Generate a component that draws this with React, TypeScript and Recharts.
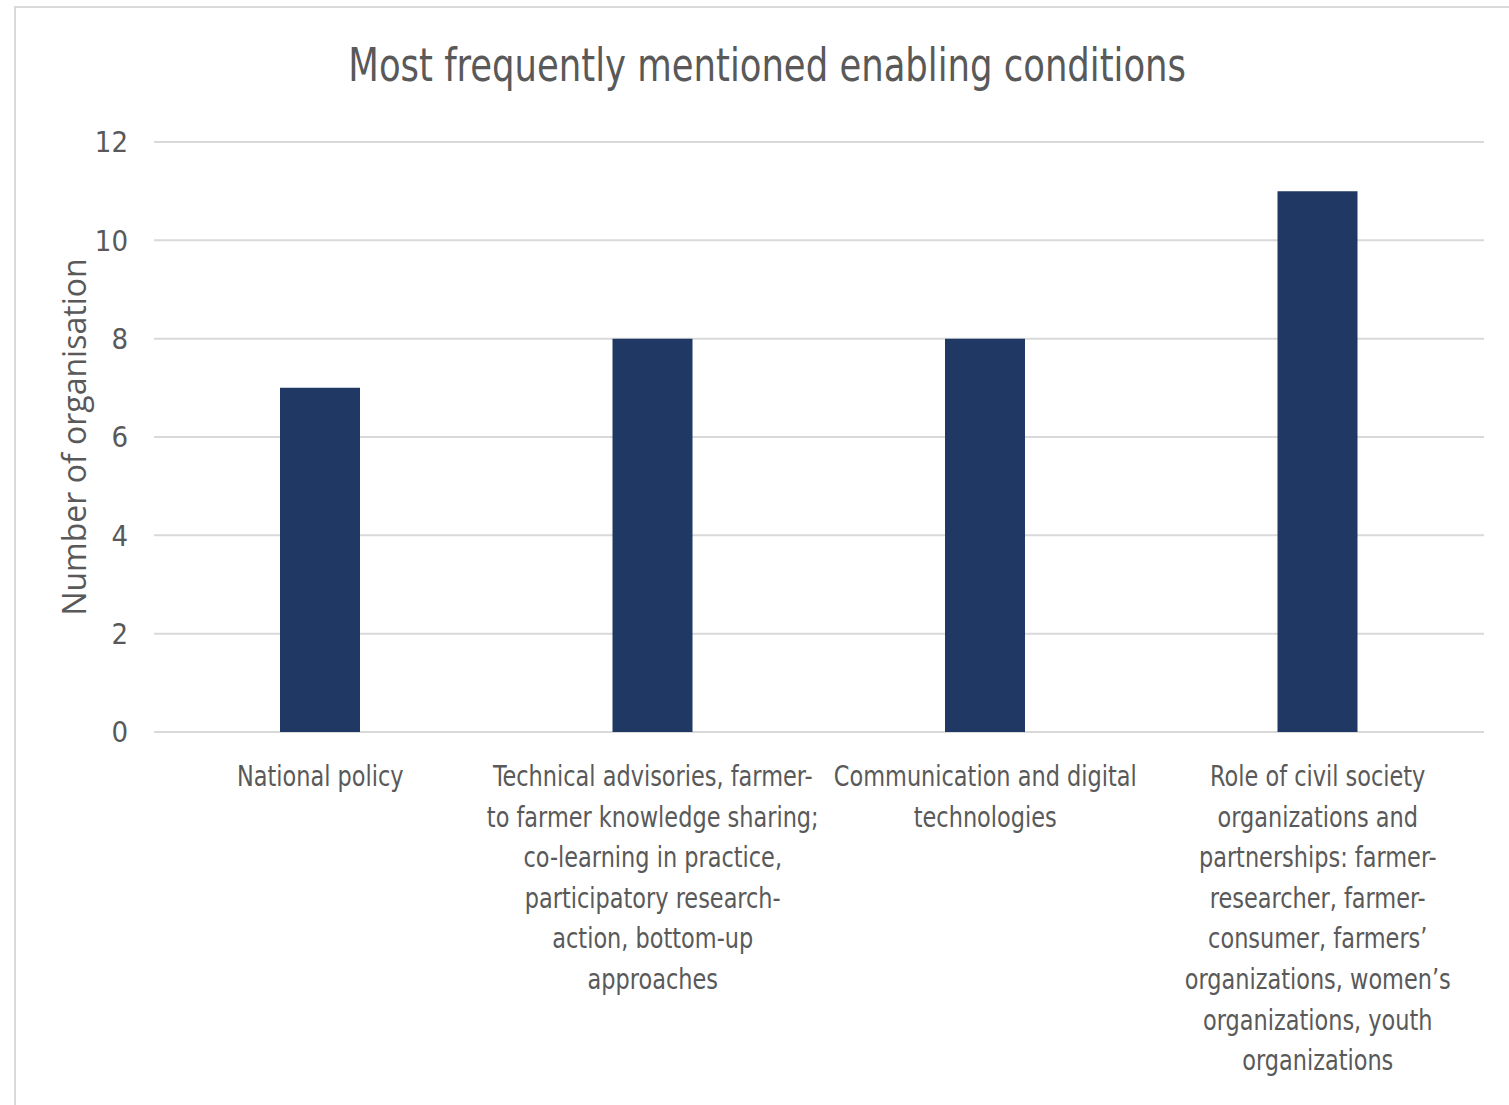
import { Bar, BarChart, CartesianGrid, XAxis, YAxis } from "recharts";

const categories = [
  "National policy",
  "Technical advisories, farmer-\nto farmer knowledge sharing;\nco-learning in practice,\nparticipatory research-\naction, bottom-up\napproaches",
  "Communication and digital\ntechnologies",
  "Role of civil society\norganizations and\npartnerships: farmer-\nresearcher, farmer-\nconsumer, farmers’\norganizations, women’s\norganizations, youth\norganizations",
];
const counts = [7, 8, 8, 11];
const yTicks = [0, 2, 4, 6, 8, 10, 12];

const data = categories.map((name, i) => ({ name, value: counts[i] }));

const FONT = '"DejaVu Sans Condensed", "Liberation Sans Narrow", "Open Sans", sans-serif';
const TEXT = "#595959";
const GRID = "#d9d9d9";

function CategoryTick({ x, y, payload }: any) {
  const lines = String(payload.value).split("\n");
  return (
    <g transform={`translate(${x}, ${y}) scale(0.86, 1)`}>
      <text x={0} y={0} textAnchor="middle" fill={TEXT} fontFamily={FONT} fontSize={29}>
        {lines.map((line, i) => (
          <tspan key={i} x={0} dy={i === 0 ? 54 : 40.6}>
            {line}
          </tspan>
        ))}
      </text>
    </g>
  );
}

function YLabel({ viewBox }: any) {
  const cy = viewBox.y + viewBox.height / 2;
  return (
    <text
      x={86}
      y={cy}
      transform={`rotate(-90, 86, ${cy})`}
      textAnchor="middle"
      fill={TEXT}
      fontFamily='"Open Sans", "Noto Sans", sans-serif'
      fontSize={32}
    >
      Number of organisation
    </text>
  );
}

export default function App() {
  return (
    <div style={{ position: "fixed", left: 0, top: 0, width: 1509, height: 1105, overflow: "hidden", background: "#fff" }}>
      <div
        style={{
          position: "absolute",
          left: 14,
          top: 6,
          width: 1500,
          height: 1120,
          border: `2px solid ${GRID}`,
          boxSizing: "border-box",
        }}
      />
      <div
        style={{
          position: "absolute",
          left: 15,
          top: 36,
          width: 1500,
          textAlign: "center",
          fontFamily: FONT,
          fontSize: 46,
          color: TEXT,
          lineHeight: "58px",
          transform: "scaleX(0.856)",
          transformOrigin: "765px 0",
          whiteSpace: "nowrap",
        }}
      >
        Most frequently mentioned enabling conditions
      </div>
      <div style={{ position: "absolute", left: 0, top: 0 }}>
        <BarChart width={1509} height={1105} data={data} margin={{ top: 142, right: 25, bottom: 13, left: 74 }}>
          <CartesianGrid horizontal vertical={false} stroke={GRID} strokeWidth={2} />
          <XAxis
            dataKey="name"
            axisLine={false}
            tickLine={false}
            tickSize={0}
            tickMargin={0}
            interval={0}
            height={360}
            tick={<CategoryTick />}
          />
          <YAxis
            domain={[0, 12]}
            ticks={yTicks}
            axisLine={false}
            tickLine={false}
            tickSize={0}
            tickMargin={26}
            width={80}
            tick={{ fill: TEXT, fontFamily: FONT, fontSize: 29 }}
            label={<YLabel />}
          />
          <Bar dataKey="value" fill="#203864" barSize={80} isAnimationActive={false} />
        </BarChart>
      </div>
    </div>
  );
}
